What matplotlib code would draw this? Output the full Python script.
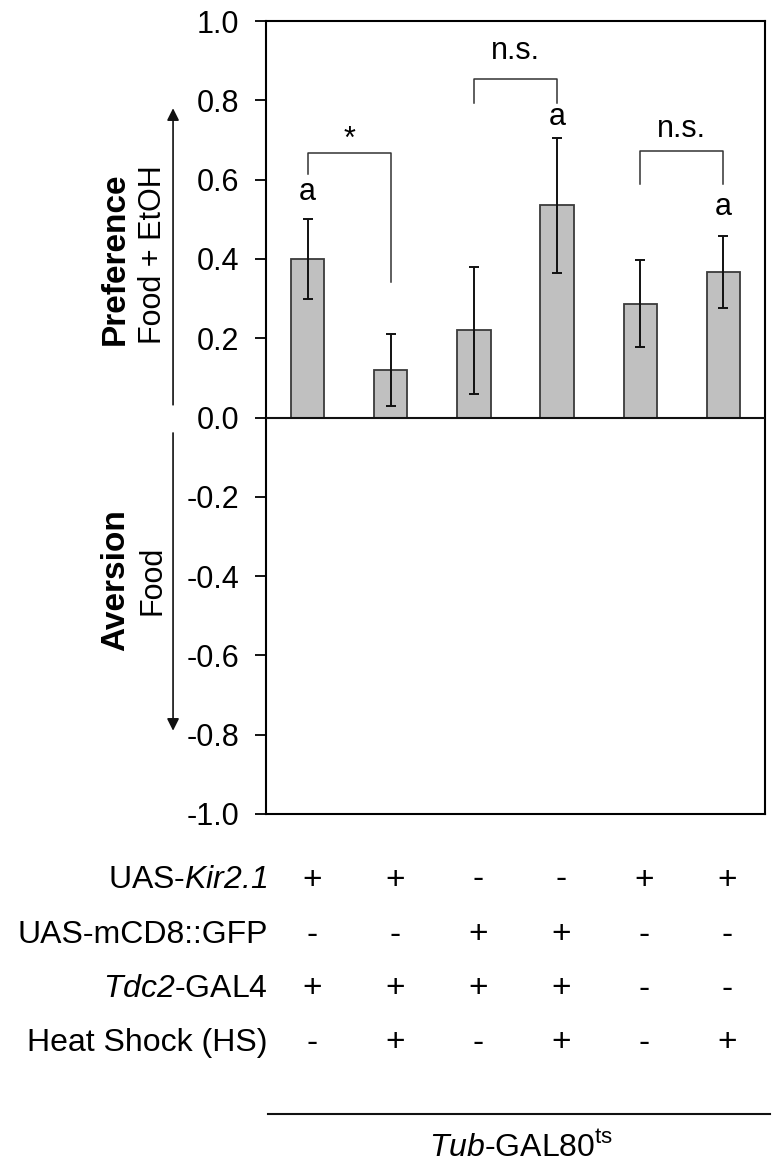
import numpy as np
import matplotlib
matplotlib.use("Agg")
import matplotlib.pyplot as plt
import matplotlib.transforms as mtransforms

plt.rcParams['font.family'] = ['Liberation Sans', 'DejaVu Sans']
plt.rcParams['mathtext.fontset'] = 'custom'
plt.rcParams['mathtext.rm'] = 'Liberation Sans'
# sf slot used for italic words so that digits stay italic too
plt.rcParams['mathtext.sf'] = 'Liberation Sans:italic'

# bar values
means = [0.40, 0.12, 0.22, 0.535, 0.287, 0.367]
errs = [0.10, 0.09, 0.16, 0.17, 0.11, 0.09]
letters = ['a', '', '', 'a', '', 'a']
letter_y = [0.568, 0, 0, 0.757, 0, 0.53]

# brackets: (left bar, right bar, top, left leg end, right leg end, label, label y)
brackets = [
    (0, 1, 0.668, 0.615, 0.341, '*', 0.70),
    (2, 3, 0.853, 0.793, 0.793, 'n.s.', 0.925),
    (4, 5, 0.673, 0.588, 0.588, 'n.s.', 0.728),
]

row_labels = ['UAS-$\\mathsf{Kir2.1}$', 'UAS-mCD8::GFP', '$\\mathsf{Tdc2}$-GAL4', 'Heat Shock (HS)']
genotype = [
    ['+', '+', '-', '-', '+', '+'],
    ['-', '-', '+', '+', '-', '-'],
    ['+', '+', '+', '+', '-', '-'],
    ['-', '+', '-', '+', '-', '+'],
]
yticks = np.round(np.arange(-1.0, 1.01, 0.2), 1)

fig = plt.figure(figsize=(7.76, 11.68), dpi=100)
ax = fig.add_axes([0.3428, 0.3031, 0.6430, 0.6789])

x = np.arange(len(means))
ax.bar(x, means, width=0.4, color='#c0c0c0', edgecolor='#3a3a3a', linewidth=1.3, zorder=2)
ax.errorbar(x, means, yerr=errs, fmt='none', ecolor='#111111', elinewidth=1.4,
            capsize=3.5, capthick=1.4, zorder=3)
ax.axhline(0, color='#111111', linewidth=1.5, zorder=4)

for i, t in enumerate(letters):
    if t:
        ax.text(x[i], letter_y[i], t, ha='center', va='center', fontsize=22)

for l, r, top, ly, ry, lab, laby in brackets:
    ax.plot([x[l], x[l], x[r], x[r]], [ly, top, top, ry], color='#333333', linewidth=1.1)
    ax.text((x[l] + x[r]) / 2, laby, lab, ha='center', va='center', fontsize=22)

ax.set_xlim(-0.5, 5.5)
ax.set_ylim(-1.0, 1.0)
ax.set_yticks(yticks)
ax.set_yticklabels(['%.1f' % (v + 0.0) for v in yticks], fontsize=22)
ax.set_xticks([])
ax.tick_params(axis='y', direction='out', length=8, width=1.3, pad=11)
for s in ax.spines.values():
    s.set_linewidth(1.5)

# side arrows and labels
side = mtransforms.blended_transform_factory(fig.transFigure, ax.transData)
for y0, y1 in [(0.025, 0.787), (-0.032, -0.797)]:
    ax.annotate('', xy=(0.223, y1), xytext=(0.223, y0), xycoords=side, textcoords=side,
                arrowprops=dict(arrowstyle='-|>', color='#111111', lw=1.2, mutation_scale=18))
ax.text(0.149, 0.40, 'Preference', transform=side, rotation=90, ha='center', va='center',
        fontsize=24, fontweight='bold')
ax.text(0.197, 0.41, 'Food + EtOH', transform=side, rotation=90, ha='center', va='center', fontsize=22)
ax.text(0.149, -0.41, 'Aversion', transform=side, rotation=90, ha='center', va='center',
        fontsize=24, fontweight='bold')
ax.text(0.197, -0.41, 'Food', transform=side, rotation=90, ha='center', va='center', fontsize=22)

# genotype table under the axes
tab = mtransforms.blended_transform_factory(ax.transData, fig.transFigure)
row_y = [1 - 880 / 1168, 1 - 935 / 1168, 1 - 989 / 1168, 1 - 1043 / 1168]
for r, lab in enumerate(row_labels):
    fig.text(0.345, row_y[r], lab, ha='right', va='center', fontsize=23)
    for c, sign in enumerate(genotype[r]):
        ax.text(x[c] + 0.05, row_y[r], sign, transform=tab, ha='center', va='center',
                fontsize=24, clip_on=False)

fig.add_artist(plt.Line2D([268 / 776, 770 / 776], [1 - 1114 / 1168] * 2, color='#111111', linewidth=1.5))
fig.text(521 / 776, 1 - 1148 / 1168, '$\\mathsf{Tub}$-GAL80$^{\\mathrm{ts}}$', ha='center', va='center', fontsize=23)

fig.savefig('out.png', dpi=100)
